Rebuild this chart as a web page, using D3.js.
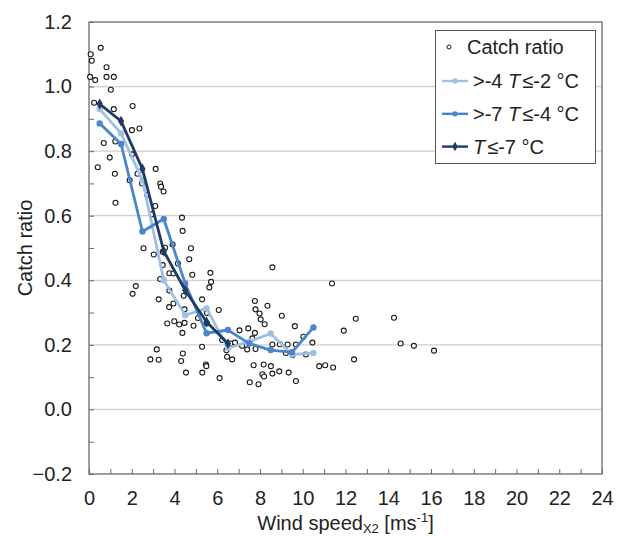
<!DOCTYPE html>
<html>
<head>
<meta charset="utf-8">
<script src="https://cdn.jsdelivr.net/npm/d3@7"></script>
<style>
  body { margin: 0; background: #fff; }
  svg { font-family: "Liberation Sans", Arial, sans-serif; }
</style>
</head>
<body>
<svg id="chart" width="617" height="537"></svg>
<script>
// observed catch ratios (wind speed, ratio)
var windSpeed = [0.55,0.08,0.13,0.82,0.82,1.16,0.05,0.29,1.02,0.24,2.04,1.16,2.01,2.36,0.69,1.23,0.97,2.01,0.41,1.21,
  2.27,3.12,1.90,2.48,3.33,3.37,3.49,2.72,1.24,3.10,2.95,
  4.35,4.38,2.55,3.03,3.56,3.91,4.77,4.69,3.45,3.45,4.16,3.76,3.95,4.83,3.33,5.68,5.71,5.63,2.19,2.04,
  3.76,3.26,4.43,5.29,3.95,3.75,4.47,6.07,3.66,3.99,4.22,4.47,4.37,4.89,5.29,3.17,2.87,3.26,4.39,4.31,
  5.47,5.49,4.54,5.30,6.11,5.52,5.52,5.10,6.23,
  8.58,7.76,7.79,7.98,8.03,8.22,8.35,9.02,9.63,7.45,7.04,8.58,8.93,9.29,9.68,9.21,9.52,10.15,10.03,10.45,
  10.77,11.05,11.42,11.37,12.48,11.92,14.27,14.58,15.20,16.14,12.40,7.70,8.17,8.51,8.90,9.34,8.58,8.11,8.19,
  7.52,7.93,9.68,7.16,7.40,7.79,7.76,7.64,6.70,6.46,6.43,6.62,6.83];
var catchRatio = [1.12,1.10,1.08,1.06,1.03,1.03,1.03,1.02,0.99,0.95,0.94,0.93,0.865,0.87,0.825,0.83,0.78,0.79,0.75,0.73,
  0.73,0.745,0.71,0.70,0.70,0.69,0.675,0.665,0.64,0.63,0.605,
  0.594,0.553,0.499,0.48,0.501,0.511,0.499,0.465,0.488,0.447,0.452,0.422,0.421,0.417,0.404,0.423,0.395,0.378,0.382,0.358,
  0.368,0.341,0.352,0.341,0.328,0.317,0.31,0.308,0.266,0.273,0.263,0.268,0.237,0.259,0.194,0.186,0.155,0.154,0.173,0.15,
  0.139,0.134,0.114,0.114,0.097,0.299,0.266,0.283,0.215,
  0.44,0.336,0.31,0.297,0.279,0.264,0.321,0.29,0.258,0.251,0.245,0.201,0.202,0.201,0.201,0.175,0.168,0.17,0.225,0.207,
  0.134,0.137,0.13,0.39,0.281,0.244,0.284,0.204,0.197,0.182,0.155,0.137,0.139,0.134,0.118,0.114,0.111,0.109,0.102,
  0.084,0.078,0.088,0.197,0.186,0.187,0.237,0.22,0.155,0.163,0.183,0.204,0.207];

// binned means per temperature class
var binSpeed = [0.5,1.5,2.5,3.5,4.5,5.5,6.5,7.5,8.5,9.5,10.5];
var warmMean = [0.93,0.855,0.71,0.40,0.292,0.313,0.19,0.21,0.235,0.17,0.175];
var midMean  = [0.886,0.822,0.551,0.59,0.39,0.236,0.246,0.204,0.184,0.177,0.254];
var coldMean = [0.946,0.893,0.745,0.49,0.369,0.271,0.204];

var xTicks = d3.range(0, 25, 2);
var yTicks = [-0.2,0,0.2,0.4,0.6,0.8,1.0,1.2];

var svg = d3.select("#chart");
var margin = {top: 22, right: 15, bottom: 63, left: 89};
var width = 617 - margin.left - margin.right;
var height = 537 - margin.top - margin.bottom;
var fs = 20;

var x = d3.scaleLinear().domain([0, 24]).range([0, width]);
var y = d3.scaleLinear().domain([-0.2, 1.2]).range([height, 0]);

var g = svg.append("g").attr("transform", "translate(" + margin.left + "," + margin.top + ")");

// gridlines
g.selectAll(".grid").data(yTicks.slice(1, -1)).enter()
  .append("line")
  .attr("x1", 0).attr("x2", width)
  .attr("y1", function(d) { return y(d); })
  .attr("y2", function(d) { return y(d); })
  .attr("stroke", "#cfcfcf").attr("stroke-width", 1.3);

// frame
g.append("rect").attr("width", width).attr("height", height)
  .attr("fill", "none").attr("stroke", "#6b6b6b").attr("stroke-width", 1.3);

// minor ticks, inside
g.append("g").call(d3.axisRight(y).tickValues(d3.range(-0.2, 1.21, 0.1)).tickSize(5).tickFormat(""))
  .call(function(a) { a.select(".domain").remove(); a.selectAll("line").attr("stroke", "#6b6b6b"); });
g.append("g").attr("transform", "translate(0," + height + ")")
  .call(d3.axisTop(x).tickValues(d3.range(0, 25, 1)).tickSize(5).tickFormat(""))
  .call(function(a) { a.select(".domain").remove(); a.selectAll("line").attr("stroke", "#6b6b6b"); });

// tick labels
g.append("g").call(d3.axisLeft(y).tickValues(yTicks).tickSize(0).tickPadding(17).tickFormat(d3.format(".1f")))
  .call(function(a) {
    a.select(".domain").remove();
    a.selectAll("text").attr("font-size", fs).attr("fill", "#222").attr("font-family", "Liberation Sans, Arial");
  });
g.append("g").attr("transform", "translate(0," + height + ")")
  .call(d3.axisBottom(x).tickValues(xTicks).tickSize(0).tickPadding(17).tickFormat(d3.format("d")))
  .call(function(a) {
    a.select(".domain").remove();
    a.selectAll("text").attr("font-size", fs).attr("fill", "#222").attr("font-family", "Liberation Sans, Arial");
  });

// axis titles
svg.append("text").attr("transform", "translate(32," + (margin.top + height / 2) + ") rotate(-90)")
  .attr("text-anchor", "middle").attr("font-size", fs).attr("fill", "#222").text("Catch ratio");
var xt = svg.append("text").attr("x", margin.left + width / 2).attr("y", 530)
  .attr("text-anchor", "middle").attr("font-size", fs).attr("fill", "#222");
xt.append("tspan").text("Wind speed");
xt.append("tspan").attr("font-size", 13).attr("dy", 3).text("X2");
xt.append("tspan").attr("dy", -3).text(" [ms");
xt.append("tspan").attr("font-size", 13).attr("dy", -8).text("-1");
xt.append("tspan").attr("dy", 8).text("]");

// scatter
g.selectAll(".pt").data(windSpeed).enter()
  .append("circle")
  .attr("cx", function(d) { return x(d); })
  .attr("cy", function(d, i) { return y(catchRatio[i]); })
  .attr("r", 2.5)
  .attr("fill", "#fff").attr("stroke", "#1a1a1a").attr("stroke-width", 1.1);

var series = [
  {name: "warm", values: warmMean, color: "#9dc0e4"},
  {name: "mid", values: midMean, color: "#4a86cc"},
  {name: "cold", values: coldMean, color: "#1f3a63"}
];

var line = d3.line()
  .x(function(d, i) { return x(binSpeed[i]); })
  .y(function(d) { return y(d); });

series.forEach(function(s) {
  g.append("path").attr("d", line(s.values))
    .attr("fill", "none").attr("stroke", s.color).attr("stroke-width", 2.8);
  g.selectAll(".m-" + s.name).data(s.values).enter()
    .append("path")
    .attr("transform", function(d, i) { return "translate(" + x(binSpeed[i]) + "," + y(d) + ")"; })
    .attr("d", d3.symbol().type(s.name == "cold" ? d3.symbolDiamond : d3.symbolCircle).size(s.name == "cold" ? 34 : 32))
    .attr("fill", s.color);
});

// legend
var lg = svg.append("g");
lg.append("rect").attr("x", 435.5).attr("y", 30.5).attr("width", 160).attr("height", 133)
  .attr("fill", "#fff").attr("stroke", "#555").attr("stroke-width", 1);

lg.append("circle").attr("cx", 449).attr("cy", 47).attr("r", 2)
  .attr("fill", "#fff").attr("stroke", "#1a1a1a");
lg.append("text").attr("x", 467).attr("y", 54).attr("font-size", fs).attr("fill", "#222").text("Catch ratio");

var legendRows = [
  {color: "#9dc0e4", pre: ">-4 ", post: "≤-2 °C", cold: false},
  {color: "#4a86cc", pre: ">-7 ", post: "≤-4 °C", cold: false},
  {color: "#1f3a63", pre: "", post: "≤-7 °C", cold: true}
];
legendRows.forEach(function(r, i) {
  var yy = 81 + i * 32.8;
  lg.append("line").attr("x1", 442).attr("x2", 468).attr("y1", yy).attr("y2", yy)
    .attr("stroke", r.color).attr("stroke-width", 2.4);
  lg.append("path").attr("transform", "translate(455," + yy + ")")
    .attr("d", d3.symbol().type(r.cold ? d3.symbolDiamond : d3.symbolCircle).size(r.cold ? 26 : 22))
    .attr("fill", r.color);
  var t = lg.append("text").attr("x", 473).attr("y", yy + 7).attr("font-size", fs).attr("fill", "#222");
  t.append("tspan").text(r.pre);
  t.append("tspan").attr("font-style", "italic").text("T");
  t.append("tspan").attr("dx", 2).text(r.post);
});
</script>
</body>
</html>
